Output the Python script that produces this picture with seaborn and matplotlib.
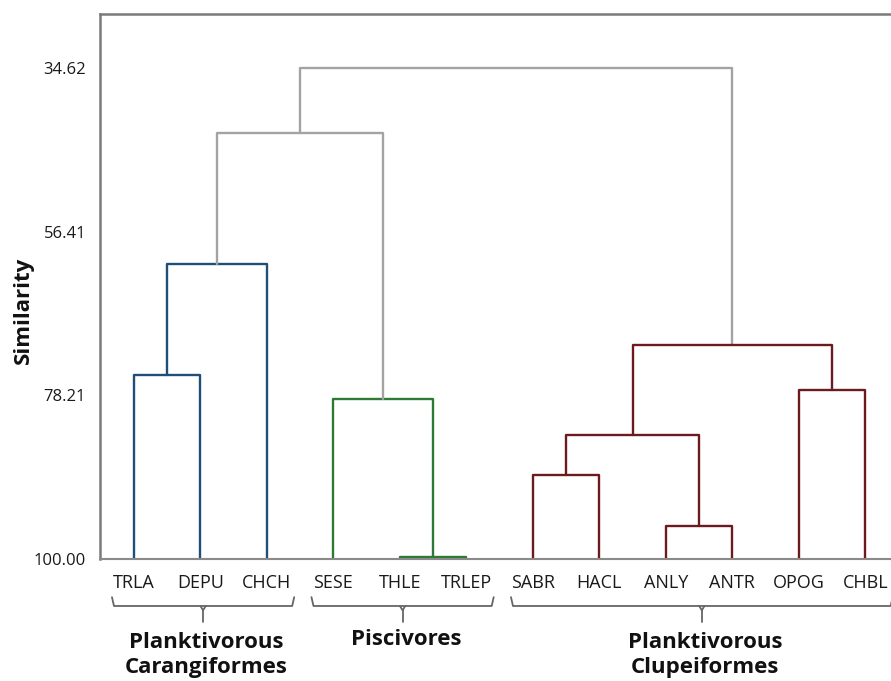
import pandas as pd
import matplotlib.pyplot as plt
import matplotlib.transforms as mtransforms
import seaborn as sns

leaves = ['TRLA', 'DEPU', 'CHCH', 'SESE', 'THLE', 'TRLEP',
          'SABR', 'HACL', 'ANLY', 'ANTR', 'OPOG', 'CHBL']

# merges: c0, c1, ... in order
link_left = ['TRLA', 'c0', 'THLE', 'SESE', 'c1', 'SABR', 'ANLY', 'c5', 'OPOG', 'c7', 'c4']
link_right = ['DEPU', 'CHCH', 'TRLEP', 'c2', 'c3', 'HACL', 'ANTR', 'c6', 'CHBL', 'c8', 'c9']
link_height = [75.5, 60.7, 99.7, 78.7, 43.3, 88.8, 95.6, 83.5, 77.5, 71.5, 34.62]
link_group = ['carang', 'carang', 'pisc', 'pisc', 'upper', 'clup', 'clup', 'clup', 'clup', 'clup', 'upper']

yticks = [34.62, 56.41, 78.21, 100.00]

group_names = ['Planktivorous\nCarangiformes', 'Piscivores', 'Planktivorous\nClupeiformes']
group_first = ['TRLA', 'SESE', 'SABR']
group_last = ['CHCH', 'TRLEP', 'CHBL']

palette = {'carang': '#1f4e79', 'pisc': '#2e7a34', 'clup': '#6d1a1f', 'upper': '#a3a3a3'}

# node positions
pos = {name: i for i, name in enumerate(leaves)}
hgt = {name: 100.0 for name in leaves}
rows = []
for k in range(len(link_left)):
    a, b = link_left[k], link_right[k]
    h = link_height[k]
    xs = [pos[a], pos[a], pos[b], pos[b]]
    ys = [hgt[a], h, h, hgt[b]]
    for j in range(4):
        rows.append({'seg': k, 'order': j, 'x': xs[j], 'y': ys[j], 'group': link_group[k]})
    pos['c%d' % k] = (pos[a] + pos[b]) / 2
    hgt['c%d' % k] = h
segs = pd.DataFrame(rows)

sns.set_style('white')
plt.rcParams['font.family'] = ['Open Sans', 'DejaVu Sans']
txt = '#1a1a1a'

fig = plt.figure(figsize=(8.91, 6.81), dpi=100)
ax = fig.add_axes([100 / 891, 122 / 681, 800 / 891, 545 / 681])

sns.lineplot(data=segs, x='x', y='y', hue='group', units='seg', estimator=None,
             sort=False, palette=palette, legend=False, linewidth=1.7, ax=ax)

ax.set_xlim(-0.51, 11.52)
ax.set_ylim(100.0, 27.4)
ax.set_xticks(range(len(leaves)))
ax.set_xticklabels(leaves, fontsize=13, color=txt)
ax.set_yticks(yticks)
ax.set_yticklabels(['%.2f' % v for v in yticks], fontsize=12, color=txt)
ax.tick_params(axis='both', direction='out', length=5, width=1.2, color='#777777', pad=5)
ax.tick_params(axis='x', pad=6)
ax.set_xlabel('')
ax.set_ylabel('Similarity', fontsize=16, fontweight='bold', color='#111111')
ax.yaxis.set_label_coords(-0.083, 0.457)

for side in ['left', 'top', 'bottom']:
    ax.spines[side].set_visible(True)
    ax.spines[side].set_color('#7a7a7a')
    ax.spines[side].set_linewidth(1.8)
ax.spines['bottom'].set_color('#8a8a8a')
ax.spines['bottom'].set_linewidth(1.5)
ax.spines['right'].set_visible(False)

# group braces under the leaf labels
tr = mtransforms.blended_transform_factory(ax.transData, ax.transAxes)
y_line, y_end, y_tip = -0.0862, -0.0700, -0.1156
for name, first, last in zip(group_names, group_first, group_last):
    x0 = leaves.index(first) - 0.33
    x1 = leaves.index(last) + 0.41
    xm = (x0 + x1) / 2
    ax.plot([x0, x0 + 0.03, x1 - 0.03, x1], [y_end, y_line, y_line, y_end],
            color='#666666', lw=1.3, transform=tr, clip_on=False)
    ax.plot([xm - 0.04, xm, xm + 0.04], [y_line, y_line - 0.008, y_line],
            color='#666666', lw=1.3, transform=tr, clip_on=False)
    ax.plot([xm, xm], [y_line - 0.008, y_tip], color='#666666', lw=1.3,
            transform=tr, clip_on=False)
    yt = -0.148 if '\n' not in name else -0.176
    ax.text(xm + 0.05, yt, name, transform=tr, ha='center', va='center',
            fontsize=16, fontweight='bold', linespacing=1.3, color='#111111',
            clip_on=False)

fig.savefig('out.png', dpi=100)
